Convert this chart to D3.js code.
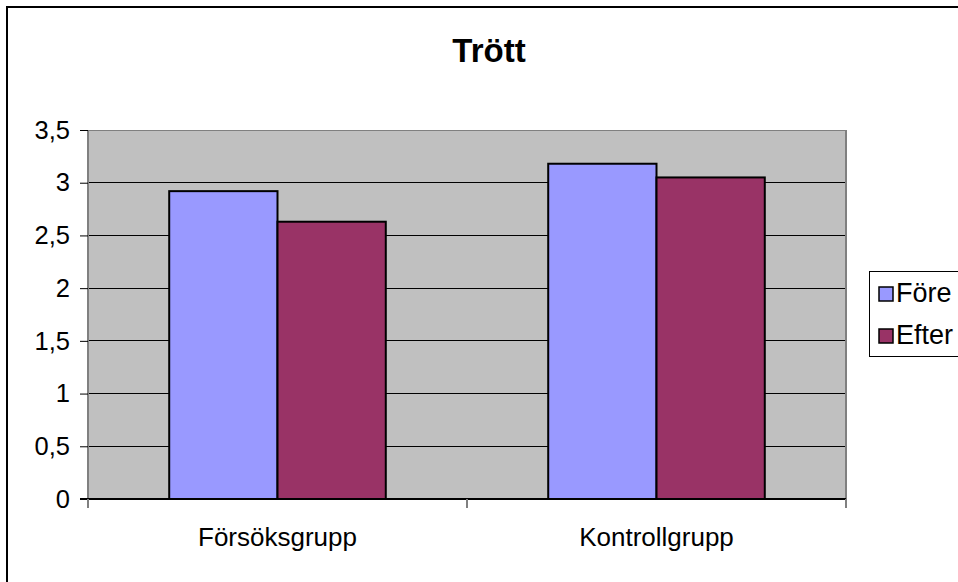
<!DOCTYPE html>
<html><head><meta charset="utf-8">
<script src="https://cdn.jsdelivr.net/npm/d3@7"></script>
<style>body{margin:0;background:#fff}svg{display:block;font-family:"Liberation Sans",Arial,sans-serif}</style>
</head><body><svg id="c" width="958" height="582"></svg>
<script>
const title = "Trött";
const categories = ["Försöksgrupp", "Kontrollgrupp"];
const seriesNames = ["Före", "Efter"];
const fore = [2.92, 3.18];
const efter = [2.63, 3.05];
const yTicks = [0, 0.5, 1, 1.5, 2, 2.5, 3, 3.5];
const colors = ["#9999FF", "#993366"];

const svg = d3.select("#c");
const m = {left: 88, right: 846, top: 130, bottom: 499};

// outer frame
svg.append("rect").attr("x", 7).attr("y", 7).attr("width", 1000).attr("height", 1000)
  .attr("fill", "#fff").attr("stroke", "#000").attr("stroke-width", 2);

const x0 = d3.scaleBand().domain(categories).range([m.left, m.right]).paddingInner(0).paddingOuter(0);
const bw = x0.bandwidth() / 3.5;
const x1 = d3.scaleBand().domain(seriesNames).range([0, 2 * bw]);
const y = d3.scaleLinear().domain([0, 3.5]).range([m.bottom, m.top]);

// plot area
svg.append("rect").attr("x", m.left).attr("y", m.top).attr("width", m.right - m.left).attr("height", m.bottom - m.top)
  .attr("fill", "#C0C0C0");

// gridlines
svg.append("g").selectAll("line").data(yTicks.filter(d => d > 0)).join("line")
  .attr("x1", m.left).attr("x2", m.right).attr("y1", d => y(d)).attr("y2", d => y(d))
  .attr("stroke", "#000").attr("stroke-width", 1).attr("shape-rendering", "crispEdges");

// plot border sides
svg.append("line").attr("x1", m.right).attr("x2", m.right).attr("y1", m.top).attr("y2", m.bottom)
  .attr("stroke", "#808080").attr("stroke-width", 2);
svg.append("line").attr("x1", m.left).attr("x2", m.right).attr("y1", m.top).attr("y2", m.top)
  .attr("stroke", "#808080").attr("stroke-width", 1).attr("shape-rendering", "crispEdges");

// bars
const data = [];
categories.forEach((c, i) => {
  data.push({c, s: seriesNames[0], v: fore[i], col: colors[0]});
  data.push({c, s: seriesNames[1], v: efter[i], col: colors[1]});
});
svg.append("g").selectAll("rect").data(data).join("rect")
  .attr("x", d => x0(d.c) + (x0.bandwidth() - 2 * bw) / 2 + x1(d.s))
  .attr("width", bw)
  .attr("y", d => y(d.v)).attr("height", d => y(0) - y(d.v))
  .attr("fill", d => d.col).attr("stroke", "#000").attr("stroke-width", 2);

// y axis
const yAxis = d3.axisLeft(y).tickValues(yTicks).tickSize(8).tickPadding(10)
  .tickFormat(d => String(d).replace(".", ","));
const gy = svg.append("g").attr("transform", `translate(${m.left},0)`).call(yAxis);
gy.select(".domain").attr("stroke", "#808080").attr("stroke-width", 2).attr("d", `M0,${m.top}V${m.bottom}`);
gy.selectAll(".tick line").attr("stroke", "#000");
gy.selectAll("text").attr("font-size", 25.5).attr("fill", "#000").attr("font-family", "Liberation Sans, Arial, sans-serif");

// x axis
svg.append("line").attr("x1", m.left - 8).attr("x2", m.right).attr("y1", m.bottom).attr("y2", m.bottom)
  .attr("stroke", "#000").attr("stroke-width", 2);
const bounds = [m.left, ...categories.map(c => x0(c) + x0.bandwidth())];
svg.append("g").selectAll("line").data(bounds).join("line")
  .attr("x1", d => d).attr("x2", d => d).attr("y1", m.bottom).attr("y2", m.bottom + 9)
  .attr("stroke", "#808080").attr("stroke-width", 2);
svg.append("g").selectAll("text").data(categories).join("text")
  .attr("x", d => x0(d) + x0.bandwidth() / 2).attr("y", 546)
  .attr("text-anchor", "middle").attr("font-size", 26).attr("fill", "#000").text(d => d);

// title
svg.append("text").attr("x", 489).attr("y", 62).attr("text-anchor", "middle")
  .attr("font-size", 33).attr("font-weight", "bold").text(title);

// legend
const lg = svg.append("g");
lg.append("rect").attr("x", 869.5).attr("y", 271.5).attr("width", 140).attr("height", 85)
  .attr("fill", "#fff").attr("stroke", "#000").attr("stroke-width", 1);
seriesNames.forEach((s, i) => {
  lg.append("rect").attr("x", 879).attr("y", 287 + i * 42).attr("width", 14).attr("height", 14)
    .attr("fill", colors[i]).attr("stroke", "#000").attr("stroke-width", 1.5);
  lg.append("text").attr("x", 896).attr("y", 302 + i * 42).attr("font-size", 27).attr("fill", "#000").text(s);
});
</script></body></html>
